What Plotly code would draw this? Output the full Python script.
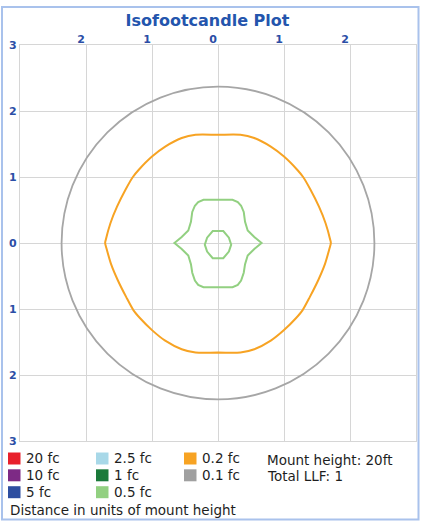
import plotly.graph_objects as go

# ---------------- data ----------------
title_text = "Isofootcandle Plot"
grid_vals = [-3, -2, -1, 0, 1, 2, 3]
x_tick_text = ["", "2", "1", "0", "1", "2", ""]
y_tick_text = ["3", "2", "1", "0", "1", "2", "3"]

# 0.1 fc contour: practically a circle (radius in mount heights)
gray_radius = 2.37

# 0.2 fc contour, right half, top -> bottom
orange_x = [0.0, 0.34, 0.55, 0.80, 1.00, 1.20, 1.29, 1.40, 1.53, 1.63, 1.70, 1.71,
            1.69, 1.62, 1.52, 1.39, 1.28, 1.18, 1.00, 0.80, 0.55, 0.34, 0.0]
orange_y = [1.64, 1.64, 1.59, 1.46, 1.31, 1.11, 1.00, 0.81, 0.55, 0.30, 0.05, 0.0,
            -0.08, -0.32, -0.56, -0.82, -1.02, -1.14, -1.32, -1.48, -1.61, -1.66, -1.66]

# 0.5 fc outer contour, right half, top -> bottom
green_out_x = [0.0, 0.22, 0.30, 0.35, 0.39, 0.41, 0.45, 0.55, 0.66,
               0.55, 0.45, 0.41, 0.39, 0.35, 0.30, 0.22, 0.0]
green_out_y = [0.655, 0.655, 0.62, 0.565, 0.47, 0.32, 0.19, 0.09, 0.0,
               -0.09, -0.19, -0.32, -0.45, -0.57, -0.635, -0.67, -0.67]

# 0.5 fc inner contour, right half, top -> bottom
green_in_x = [0.0, 0.08, 0.165, 0.20, 0.165, 0.08, 0.0]
green_in_y = [0.18, 0.18, 0.08, -0.025, -0.13, -0.23, -0.23]

legend_labels = ["20 fc", "10 fc", "5 fc", "2.5 fc", "1 fc", "0.5 fc", "0.2 fc", "0.1 fc"]
legend_colors = ["#e8202c", "#7d2a85", "#2e4ea0", "#a8d8e8", "#1b7a3a", "#92d081", "#f7a323", "#a0a0a0"]
info_lines = ["Mount height: 20ft", "Total LLF: 1"]
footer_text = "Distance in units of mount height"

# ---------------- layout geometry (pixels) ----------------
W, H = 422, 521
L, T, PW, PH = 20, 45, 396, 396
R = W - L - PW
B = H - T - PH


def pxx(px):
    return (px - L) / PW


def pxy(py):
    return (T + PH - py) / PH


def mirror(xs, ys):
    fx = list(xs) + [-v for v in reversed(xs)]
    fy = list(ys) + list(reversed(ys))
    return fx, fy


BLUE = "#2b4ea6"
GRID = "#d6d6d6"
TXT = "#1e1e1e"

fig = go.Figure()

ox, oy = mirror(orange_x, orange_y)
fig.add_trace(go.Scatter(x=ox, y=oy, mode="lines",
                         line=dict(color="#f7a323", width=2, shape="spline", smoothing=0.8),
                         showlegend=False, hoverinfo="skip"))
gx, gy = mirror(green_out_x, green_out_y)
fig.add_trace(go.Scatter(x=gx, y=gy, mode="lines", line=dict(color="#92d081", width=2),
                         showlegend=False, hoverinfo="skip"))
ix, iy = mirror(green_in_x, green_in_y)
fig.add_trace(go.Scatter(x=ix, y=iy, mode="lines", line=dict(color="#92d081", width=2),
                         showlegend=False, hoverinfo="skip"))

shapes = []
# 0.1 fc circle in data coordinates
shapes.append(dict(type="circle", xref="x", yref="y", x0=-gray_radius, x1=gray_radius,
                   y0=-gray_radius, y1=gray_radius, line=dict(color="#a6a6a6", width=1.8), layer="above"))
# outer light-blue frame
shapes.append(dict(type="rect", xref="paper", yref="paper", x0=pxx(2), x1=pxx(418.5), y0=pxy(519.5), y1=pxy(7),
                   line=dict(color="#a9c2ec", width=2), fillcolor="rgba(0,0,0,0)"))

annotations = []
col_sq_x = [8, 96, 184]
col_txt_x = [23.5, 112, 200]
row_y = [458.5, 475.3, 492.2]
positions = [(0, 0), (0, 1), (0, 2), (1, 0), (1, 1), (1, 2), (2, 0), (2, 1)]
for (c, r), lab, colr in zip(positions, legend_labels, legend_colors):
    cy = row_y[r]
    shapes.append(dict(type="rect", xref="paper", yref="paper", x0=pxx(col_sq_x[c]), x1=pxx(col_sq_x[c] + 12.5),
                       y0=pxy(cy + 6), y1=pxy(cy - 6), line=dict(width=0), fillcolor=colr))
    annotations.append(dict(text=lab, xref="paper", yref="paper", x=pxx(col_txt_x[c]), y=pxy(cy),
                            xanchor="left", yanchor="middle", showarrow=False,
                            font=dict(family="DejaVu Sans", size=13.5, color=TXT)))
for i, line in enumerate(info_lines):
    annotations.append(dict(text=line, xref="paper", yref="paper", x=pxx(265), y=pxy(460 + 16 * i),
                            xanchor="left", yanchor="middle", showarrow=False,
                            font=dict(family="DejaVu Sans", size=13.5, color=TXT)))
annotations.append(dict(text=footer_text, xref="paper", yref="paper", x=pxx(7.5), y=pxy(510),
                        xanchor="left", yanchor="middle", showarrow=False,
                        font=dict(family="DejaVu Sans", size=13.5, color=TXT)))

axis_common = dict(range=[-3, 3], tickvals=grid_vals, showgrid=True, gridcolor=GRID, gridwidth=1.2,
                   zeroline=False, showline=True, mirror=True, linecolor=GRID, linewidth=1.2,
                   ticks="", tickfont=dict(family="DejaVu Sans", size=11, color=BLUE, weight="bold"),
                   fixedrange=True)

fig.update_layout(
    width=W, height=H,
    margin=dict(l=L, r=R, t=T, b=B, pad=0),
    paper_bgcolor="white", plot_bgcolor="white",
    title=dict(text=title_text, x=207.5 / W, xref="container", xanchor="center",
               y=1 - 20 / H, yref="container", yanchor="middle",
               font=dict(family="DejaVu Sans", size=16, color="#2455ad", weight="bold")),
    xaxis=dict(axis_common, side="top", ticktext=x_tick_text, ticklabelshift=-5, ticklabelstandoff=-3),
    yaxis=dict(axis_common, ticktext=y_tick_text, ticklabelstandoff=0),
    shapes=shapes, annotations=annotations, showlegend=False,
)

fig.write_html("out.html", config={"displayModeBar": False},
               post_script="document.body.style.margin='0';")
